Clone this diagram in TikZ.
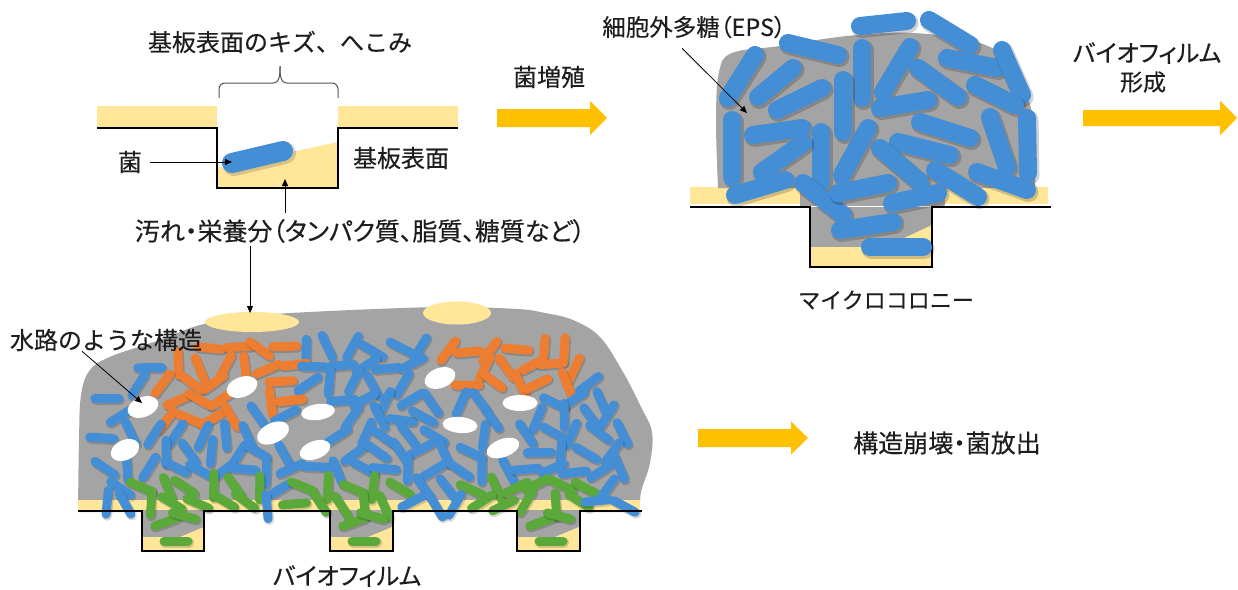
\documentclass[tikz,border=0pt]{standalone}
\usepackage{fontspec}
\newfontfamily\jpfont[FakeBold=0.3]{Noto Sans CJK JP}
\newfontfamily\jppfont[RawFeature=+palt,FakeBold=0.3]{Noto Sans CJK JP}
\usetikzlibrary{arrows.meta,shapes.geometric}

\definecolor{tanfill}{HTML}{FFE699}
\definecolor{gold}{HTML}{FFC000}
\definecolor{film}{HTML}{A4A4A4}
\definecolor{rodblue}{HTML}{448ED6}
\definecolor{rodorange}{HTML}{ED7D31}
\definecolor{rodgreen}{HTML}{5BA83B}
\definecolor{ink}{HTML}{1E1E1E}
\definecolor{bracegray}{HTML}{555555}

\tikzset{
  surface/.style={line width=2.4pt, black, line join=miter},
  lbl/.style={font=\jpfont\fontsize{24}{28}\selectfont, text=ink, inner sep=0pt},
  pointer/.style={draw=black, line width=0.8pt, -{Triangle[length=7pt,width=6pt]}},
  channel/.style={ellipse, fill=white, draw=none, inner sep=0pt},
  nutrient/.style={ellipse, fill=tanfill, draw=none, inner sep=0pt},
}

% small rod in the mature film: centre x, centre y, angle, colour
\newcommand\bugrod[4]{%
  \draw[line width=10pt, line cap=round, black, opacity=0.16]
    ([shift={(1pt,-1.5pt)}]#1,#2) ++(#3:-12) -- ++(#3:24);
  \draw[line width=9pt, line cap=round, #4] (#1,#2) ++(#3:-12) -- ++(#3:24);
}
% large rod of the microcolony: two end points of the centre line
\newcommand\bigrod[4]{%
  \draw[line width=20pt, line cap=round, black, opacity=0.18]
    ([shift={(1.5pt,-2pt)}]#1,#2) -- ([shift={(1.5pt,-2pt)}]#3,#4);
  \draw[line width=18pt, line cap=round, rodblue] (#1,#2) -- (#3,#4);
}
% block arrow: x start, x tip, y, half body height, half head height
\newcommand\goldarrow[5]{%
  \fill[gold] (#1,#3-#4) -- (#2-17,#3-#4) -- (#2-17,#3-#5) -- (#2,#3)
    -- (#2-17,#3+#5) -- (#2-17,#3+#4) -- (#1,#3+#4) -- cycle;
}

\begin{document}
\begin{tikzpicture}[x=1pt,y=-1pt]
\useasboundingbox (0,0) rectangle (1238,589);
\fill[white] (0,0) rectangle (1238,589);

% ---------- first stage: a single cell in a dent ----------
\fill[tanfill] (97,106) rectangle (217,127);
\fill[tanfill] (338,106) rectangle (458,127);
\fill[tanfill] (217,168) -- (338,142) -- (338,188) -- (217,188) -- cycle;
\draw[surface] (97,128) -- (217,128) -- (217,188) -- (338,188) -- (338,128) -- (458,128);
\draw[line width=22pt, line cap=round, black, opacity=0.15] (234,165) -- (285,153);
\draw[line width=20pt, line cap=round, rodblue] (232,163) -- (283,151);
\coordinate (cellA) at (232,162);

\draw[bracegray, line width=1pt]
  (219,98) -- (219,89) to[out=90,in=180] (225,83) -- (273,83) to[out=0,in=-90] (280,66);
\draw[bracegray, line width=1pt]
  (338,98) -- (338,89) to[out=90,in=0] (332,83) -- (287,83) to[out=180,in=-90] (280,66);

\node[lbl] (dent) at (280,42) {基板表面のキズ、へこみ};
\node[lbl] (kin) at (130,162) {菌};
\node[lbl] (sub) at (401,158) {基板表面};
\node[lbl, font=\jppfont\fontsize{25}{29}\selectfont] (dirt) at (360,231)
  {汚れ・栄養分（タンパク質、脂質、糖質など）};

\draw[pointer] ([xshift=8pt]kin.east) -- (cellA);
\coordinate (pitDirt) at (285,179);
\draw[pointer] ([yshift=6pt]pitDirt |- dirt.north) -- (pitDirt);

\node[lbl] (grow) at (549,77) {菌増殖};
\goldarrow{497}{607}{118}{9}{17}

% ---------- second stage: microcolony ----------
\fill[tanfill] (690,187) rectangle (1048,204);
\fill[film] plot[smooth, tension=0.6] coordinates {(718,188) (716,120) (719,72) (732,53)
  (780,46) (847,36) (913,33) (980,43) (1013,67) (1033,117) (1035,177) (1035,188)} -- cycle;
\fill[film] (800,186) rectangle (945,206);
\fill[film] (810,207) rectangle (932,247);
\fill[tanfill] (810,247) -- (885,247) -- (932,225) -- (932,267) -- (810,267) -- cycle;
\draw[surface] (690,207) -- (810,207) -- (810,267) -- (932,267) -- (932,207) -- (1051,207);

\bigrod{860}{26}{907}{21}
\bigrod{929}{20}{970}{45}
\bigrod{788}{43}{838}{55}
\bigrod{862}{48}{862}{98}
\bigrod{910}{47}{883}{92}
\bigrod{947}{58}{997}{68}
\bigrod{1002}{50}{1022}{95}
\bigrod{755}{55}{728}{98}
\bigrod{793}{68}{758}{97}
\bigrod{822}{88}{777}{110}
\bigrod{843}{80}{843}{132}
\bigrod{918}{68}{958}{97}
\bigrod{975}{85}{1015}{105}
\bigrod{880}{108}{928}{100}
\bigrod{732}{120}{732}{177}
\bigrod{753}{135}{802}{128}
\bigrod{821}{132}{821}{182}
\bigrod{868}{128}{842}{175}
\bigrod{920}{122}{970}{138}
\bigrod{990}{117}{1007}{167}
\bigrod{1027}{118}{1028}{173}
\bigrod{803}{143}{762}{172}
\bigrod{898}{142}{950}{155}
\bigrod{880}{148}{920}{182}
\bigrod{935}{170}{978}{197}
\bigrod{977}{172}{1027}{190}
\bigrod{735}{195}{785}{180}
\bigrod{803}{183}{843}{215}
\bigrod{838}{193}{888}{183}
\bigrod{892}{203}{938}{193}
\bigrod{840}{230}{893}{222}
\bigrod{870}{247}{923}{247}

\node[lbl, font=\jppfont\fontsize{23.5}{28}\selectfont, anchor=east] (eps) at (786,27) {細胞外多糖（EPS）};
\coordinate (epsTip) at (747,113);
\draw[pointer] ([shift={(-12pt,-10pt)}]eps.south) -- (epsTip);
\node[lbl, font=\jpfont\fontsize{22}{26}\selectfont] (micro) at (886,300) {マイクロコロニー};

\node[lbl, font=\jppfont\fontsize{24}{28}\selectfont] (formA) at (1147,53) {バイオフィルム};
\node[lbl, font=\jpfont\fontsize{23}{26}\selectfont] (formB) at (1143,82) {形成};
\goldarrow{1083}{1237}{118}{8}{17.5}

% ---------- third stage: mature biofilm ----------
\fill[film] plot[smooth, tension=0.6] coordinates {(78,512) (79,440) (81,395) (90,370)
  (112,356) (160,340) (200,325) (252,316) (330,311) (443,307) (517,309) (545,313)
  (573,320) (600,337) (623,372) (641,407) (652,432) (650,463) (641,492) (640,512)} -- cycle;
\foreach \xl in {142,330,517}{
  \fill[film] (\xl,505) rectangle (\xl+62,550);
  \fill[tanfill] (\xl,537) -- (\xl+38,537) -- (\xl+62,527) -- (\xl+62,550) -- (\xl,550) -- cycle;
}
\fill[tanfill] (78,500) rectangle (640,510);
\draw[white!75!gray, line width=0.6pt] (267,500) -- (267,510) (455,500) -- (455,510);

\node[nutrient, minimum width=94pt, minimum height=20pt] (nut1) at (252,322) {};
\node[nutrient, minimum width=68pt, minimum height=23pt] (nut2) at (457,313) {};

% rods of the film, laid out on a jittered grid
\pgfmathsetseed{4242}
\foreach \r in {0,...,9}{
  \foreach \c in {0,...,23}{
    \pgfmathsetmacro\bx{94+\c*23.5+mod(\r,2)*11.5+rand*4}
    \pgfmathsetmacro\by{349+\r*17.2+rand*3}
    \pgfmathtruncatemacro\bk{random(0,5)}
    \pgfmathsetmacro\ba{\bk*30+rand*8}
    \pgfmathtruncatemacro\bin{(\bx>=ifthenelse(\by<400,98+(400-\by),98)) && (\bx<=ifthenelse(\by<400,622-(400-\by),630)) && (\bx>208 || \by>362)}
    \pgfmathtruncatemacro\bhole{
      (((\bx-143)/24)*((\bx-143)/24)+((\by-407)/15)*((\by-407)/15)<1) ||
      (((\bx-242)/24)*((\bx-242)/24)+((\by-387)/15)*((\by-387)/15)<1) ||
      (((\bx-318)/24)*((\bx-318)/24)+((\by-412)/15)*((\by-412)/15)<1) ||
      (((\bx-273)/24)*((\bx-273)/24)+((\by-433)/15)*((\by-433)/15)<1) ||
      (((\bx-125)/24)*((\bx-125)/24)+((\by-450)/15)*((\by-450)/15)<1) ||
      (((\bx-315)/24)*((\bx-315)/24)+((\by-450)/15)*((\by-450)/15)<1) ||
      (((\bx-440)/24)*((\bx-440)/24)+((\by-378)/15)*((\by-378)/15)<1) ||
      (((\bx-520)/24)*((\bx-520)/24)+((\by-403)/15)*((\by-403)/15)<1) ||
      (((\bx-460)/24)*((\bx-460)/24)+((\by-425)/15)*((\by-425)/15)<1) ||
      (((\bx-503)/24)*((\bx-503)/24)+((\by-448)/15)*((\by-448)/15)<1)}
    \ifnum\bin=1 \ifnum\bhole=0
      \pgfmathtruncatemacro\btone{ifthenelse(((\bx>=158) && (\bx<=300) && (\by<=ifthenelse(\bx>245,410,432))) || ((\bx>=438) && (\bx<=575) && (\by<=398)), 1,
        ifthenelse((\by>=476) && (((\bx>=128) && (\bx<=262)) || ((\bx>=288) && (\bx<=405)) || ((\bx>=468) && (\bx<=588))), 2, 0))}
      \ifcase\btone \def\bcol{rodblue}\or \def\bcol{rodorange}\else \def\bcol{rodgreen}\fi
      \bugrod{\bx}{\by}{\ba}{\bcol}
    \fi\fi
  }
}
% rods resting in the dents
\foreach \xl in {142,330,517}{
  \bugrod{\xl+24}{522}{-20}{rodgreen}
  \bugrod{\xl+42}{516}{15}{rodgreen}
  \bugrod{\xl+34}{541}{0}{rodgreen}
}

% water channels
\node[channel, minimum width=32pt, minimum height=20pt, rotate=20] (ch1) at (143,407) {};
\node[channel, minimum width=32pt, minimum height=20pt, rotate=20] (ch2) at (242,387) {};
\node[channel, minimum width=34pt, minimum height=16pt, rotate=8]  (ch3) at (318,412) {};
\node[channel, minimum width=34pt, minimum height=20pt, rotate=25] (ch4) at (273,433) {};
\node[channel, minimum width=30pt, minimum height=20pt, rotate=25] (ch5) at (125,450) {};
\node[channel, minimum width=32pt, minimum height=18pt, rotate=20] (ch6) at (315,450) {};
\node[channel, minimum width=32pt, minimum height=20pt, rotate=20] (ch7) at (440,378) {};
\node[channel, minimum width=35pt, minimum height=16pt]            (ch8) at (520,403) {};
\node[channel, minimum width=35pt, minimum height=16pt, rotate=-5] (ch9) at (460,425) {};
\node[channel, minimum width=34pt, minimum height=18pt, rotate=20] (ch10) at (503,448) {};

\draw[surface] (78,511) -- (142,511) -- (142,551) -- (204,551) -- (204,511) -- (330,511)
  -- (330,551) -- (393,551) -- (393,511) -- (517,511) -- (517,551) -- (580,551) -- (580,511) -- (642,511);

\coordinate (nutTop) at (250,313);
\draw[pointer] ([yshift=-3pt]nutTop |- dirt.south) -- (nutTop);

\node[lbl] (water) at (106,340) {水路のような構造};
\draw[pointer] ([xshift=-24pt]water.south) -- ([shift={(-1pt,4pt)}]ch1.center);

\node[lbl, font=\jppfont\fontsize{24}{28}\selectfont] (film) at (347,576) {バイオフィルム};

% ---------- last stage ----------
\goldarrow{698}{808}{438}{9}{16.5}
\node[lbl, font=\jppfont\fontsize{25}{29}\selectfont] (burst) at (947,443) {構造崩壊・菌放出};
\end{tikzpicture}
\end{document}
